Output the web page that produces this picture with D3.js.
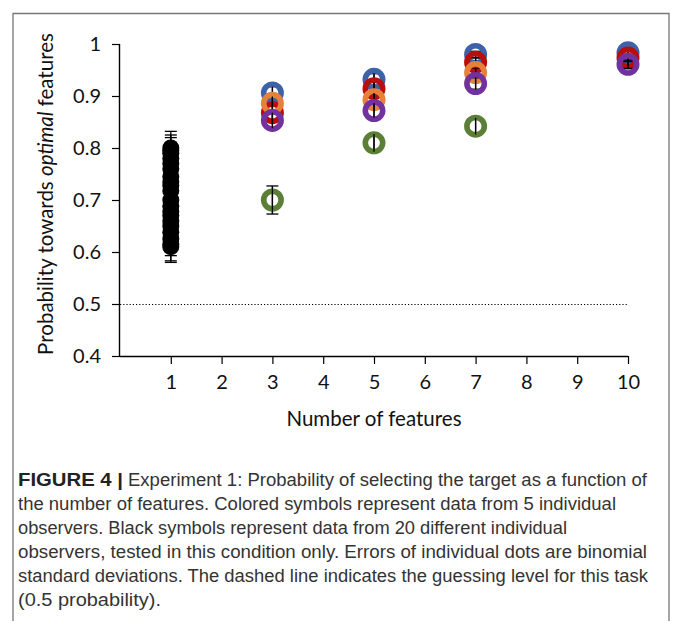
<!DOCTYPE html>
<html>
<head>
<meta charset="utf-8">
<script src="https://cdn.jsdelivr.net/npm/d3@7"></script>
<style>
  html, body { margin: 0; padding: 0; background: #fff; }
  svg { display: block; }
</style>
</head>
<body>
<svg id="chart" width="674" height="621"></svg>
<script>
// ---- data ----
const xTicks = [1, 2, 3, 4, 5, 6, 7, 8, 9, 10];
const yTicks = [0.4, 0.5, 0.6, 0.7, 0.8, 0.9, 1];
const yTickLabels = ["0.4", "0.5", "0.6", "0.7", "0.8", "0.9", "1"];
const guessLevel = 0.5;

// 20 observers tested only with 1 feature
const blackFeature = 1;
const blackValues = [0.800, 0.795, 0.790, 0.780, 0.770, 0.760, 0.745, 0.735, 0.728, 0.718,
                     0.700, 0.688, 0.678, 0.670, 0.660, 0.650, 0.638, 0.625, 0.615, 0.610];
const blackErrors = [0.032, 0.030, 0.030, 0.031, 0.031, 0.032, 0.032, 0.032, 0.032, 0.033,
                     0.033, 0.033, 0.033, 0.033, 0.033, 0.033, 0.033, 0.032, 0.032, 0.030];

// 5 individual observers
const features = [3, 5, 7, 10];
const observerNames = ["Blue", "Red", "Orange", "Purple", "Green"];
const obsBlue   = [0.906, 0.932, 0.980, 0.983];
const obsRed    = [0.868, 0.914, 0.965, 0.973];
const obsOrange = [0.886, 0.893, 0.945, null];
const obsPurple = [0.853, 0.872, 0.924, 0.961];
const obsGreen  = [0.700, 0.810, 0.842, null];
const errBlue   = [0.012, 0.011, 0.006, 0.005];
const errRed    = [0.014, 0.012, 0.008, 0.007];
const errOrange = [0.013, 0.013, 0.009, null];
const errPurple = [0.015, 0.014, 0.011, 0.008];
const errGreen  = [0.027, 0.017, 0.016, null];
const observerColors = ["#3E62A9", "#BA0D0D", "#E8803A", "#7132A0", "#5B7F36"];

const captionBold = "FIGURE 4 |";
const captionLines = [
  "Experiment 1: Probability of selecting the target as a function of",
  "the number of features. Colored symbols represent data from 5 individual",
  "observers. Black symbols represent data from 20 different individual",
  "observers, tested in this condition only. Errors of individual dots are binomial",
  "standard deviations. The dashed line indicates the guessing level for this task",
  "(0.5 probability)."
];

// ---- drawing ----
const svg = d3.select("#chart");
const font = "Lato, 'Open Sans', sans-serif";

// frame
svg.append("path")
  .attr("d", "M13,630 L13,13.5 L669,13.5 L669,630")
  .attr("fill", "none")
  .attr("stroke", "#777")
  .attr("stroke-width", 1.3);

const x = d3.scaleLinear().domain([0, 10]).range([120, 628]);
const y = d3.scaleLinear().domain([0.4, 1]).range([356, 44]);

const g = svg.append("g");

// x axis
const xAxis = d3.axisBottom(x).tickValues(xTicks).tickSize(8).tickPadding(11)
  .tickFormat(d3.format("d"));
const gx = g.append("g").attr("transform", `translate(0,${y(0.4)})`).call(xAxis);
gx.select(".domain").attr("d", `M${x(0)},0.5H${x(10)}`).attr("stroke", "#000").attr("stroke-width", 1.4);
gx.selectAll(".tick line").attr("stroke", "#000").attr("stroke-width", 1.2);
gx.selectAll(".tick text").attr("font-family", font).attr("font-size", 20).attr("fill", "#111");

// y axis
const yAxis = d3.axisLeft(y).tickValues(yTicks).tickSize(8).tickPadding(11)
  .tickFormat((d, i) => yTickLabels[i]);
const gy = g.append("g").attr("transform", `translate(${x(0)},0)`).call(yAxis);
gy.select(".domain").attr("d", `M-0.5,${y(1)}V${y(0.4)}`).attr("stroke", "#000").attr("stroke-width", 1.4);
gy.selectAll(".tick line").attr("stroke", "#000").attr("stroke-width", 1.2);
gy.selectAll(".tick text").attr("font-family", font).attr("font-size", 20).attr("fill", "#111");

// guessing level
g.append("line")
  .attr("x1", x(0)).attr("x2", x(10))
  .attr("y1", y(guessLevel) + 0.5).attr("y2", y(guessLevel) + 0.5)
  .attr("stroke", "#000").attr("stroke-width", 1.2)
  .attr("stroke-dasharray", "1.2,2");

// axis titles
g.append("text")
  .attr("x", (x(0) + x(10)) / 2).attr("y", 426)
  .attr("text-anchor", "middle")
  .attr("font-family", font).attr("font-size", 20.5).attr("fill", "#111")
  .text("Number of features");

const yl = g.append("text")
  .attr("transform", `translate(53,${(y(0.4) + y(1)) / 2 - 6}) rotate(-90)`)
  .attr("text-anchor", "middle")
  .attr("font-family", font).attr("font-size", 20.5).attr("fill", "#111");
yl.append("tspan").text("Probability towards ");
yl.append("tspan").attr("font-style", "italic").text("optimal");
yl.append("tspan").text(" features");

// error bar helper
function errorBar(sel, cx, v, e, cap) {
  sel.append("line").attr("x1", cx).attr("x2", cx)
    .attr("y1", y(v - e)).attr("y2", y(v + e))
    .attr("stroke", "#000").attr("stroke-width", 1.3);
  [v - e, v + e].forEach(t => {
    sel.append("line").attr("x1", cx - cap).attr("x2", cx + cap)
      .attr("y1", y(t)).attr("y2", y(t))
      .attr("stroke", "#000").attr("stroke-width", 1.3);
  });
}

// black observers
const gb = g.append("g");
blackValues.forEach((v, i) => errorBar(gb, x(blackFeature), v, blackErrors[i], 6));
gb.selectAll("circle").data(blackValues).join("circle")
  .attr("cx", x(blackFeature)).attr("cy", d => y(d))
  .attr("r", 8.5).attr("fill", "#000");

// coloured observers
const obsValues = [obsBlue, obsRed, obsOrange, obsPurple, obsGreen];
const obsErrors = [errBlue, errRed, errOrange, errPurple, errGreen];
obsValues.forEach((vals, s) => {
  const gs = g.append("g").attr("class", "obs-" + observerNames[s]);
  vals.forEach((v, i) => {
    if (v === null) return;
    errorBar(gs, x(features[i]), v, obsErrors[s][i], 6);
    gs.append("circle")
      .attr("cx", x(features[i])).attr("cy", y(v))
      .attr("r", 8.7).attr("fill", "none")
      .attr("stroke", observerColors[s]).attr("stroke-width", 5.6);
    // error bar visible through ring
    gs.append("line").attr("x1", x(features[i])).attr("x2", x(features[i]))
      .attr("y1", y(v - obsErrors[s][i])).attr("y2", y(v + obsErrors[s][i]))
      .attr("stroke", "#000").attr("stroke-width", 1.3);
  });
});

// caption
const capFont = "'Liberation Sans Narrow', 'Liberation Sans', Arial, sans-serif";
const capBase = [486, 510, 534, 558, 582, 606];
const capEnds = [647, 616, 567, 647, 648, 161];
svg.append("text")
  .attr("x", 18).attr("y", capBase[0])
  .attr("font-family", capFont).attr("font-size", 17.5).attr("font-weight", "bold")
  .attr("fill", "#222")
  .attr("textLength", 105).attr("lengthAdjust", "spacingAndGlyphs")
  .text(captionBold);
captionLines.forEach((t, i) => {
  const x0 = i === 0 ? 128 : 18;
  svg.append("text")
    .attr("x", x0).attr("y", capBase[i])
    .attr("font-family", capFont).attr("font-size", 17.5)
    .attr("fill", "#333")
    .attr("textLength", capEnds[i] - x0).attr("lengthAdjust", "spacingAndGlyphs")
    .text(t);
});
</script>
</body>
</html>
